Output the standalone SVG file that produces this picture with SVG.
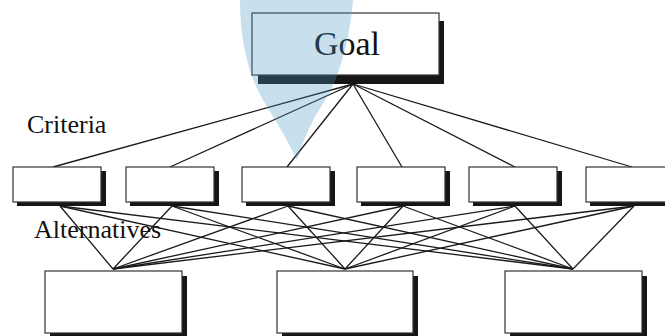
<svg xmlns="http://www.w3.org/2000/svg" width="665" height="336" viewBox="0 0 665 336">
<style>
.box{fill:#fff;stroke:#333;stroke-width:1.2}
.shadow{fill:#161616}
.lbl{font-family:"Liberation Serif","Times New Roman",serif;fill:#111}
#connectors line{stroke:#1a1a1a;stroke-width:1.3}
</style>
<rect width="665" height="336" fill="#fff"/>
<g id="connectors">
<line x1="353" y1="84" x2="53" y2="167"/>
<line x1="353" y1="84" x2="170" y2="167"/>
<line x1="353" y1="84" x2="287" y2="167"/>
<line x1="353" y1="84" x2="402" y2="167"/>
<line x1="353" y1="84" x2="515" y2="167"/>
<line x1="353" y1="84" x2="632" y2="167"/>
<line x1="60" y1="206" x2="113" y2="269"/><line x1="60" y1="206" x2="345" y2="269"/><line x1="60" y1="206" x2="573" y2="269"/>
<line x1="172" y1="206" x2="113" y2="269"/><line x1="172" y1="206" x2="345" y2="269"/><line x1="172" y1="206" x2="573" y2="269"/>
<line x1="288" y1="206" x2="113" y2="269"/><line x1="288" y1="206" x2="345" y2="269"/><line x1="288" y1="206" x2="573" y2="269"/>
<line x1="403" y1="206" x2="113" y2="269"/><line x1="403" y1="206" x2="345" y2="269"/><line x1="403" y1="206" x2="573" y2="269"/>
<line x1="515" y1="206" x2="113" y2="269"/><line x1="515" y1="206" x2="345" y2="269"/><line x1="515" y1="206" x2="573" y2="269"/>
<line x1="634" y1="206" x2="113" y2="269"/><line x1="634" y1="206" x2="345" y2="269"/><line x1="634" y1="206" x2="573" y2="269"/>
</g>
<g id="goal">
<rect class="shadow" x="258" y="21" width="186" height="63"/>
<rect class="box" x="252" y="13" width="187" height="62"/>
<text class="lbl" x="347" y="55" font-size="34" text-anchor="middle">Goal</text>
</g>
<g id="c1"><rect class="shadow" x="17" y="171" width="89" height="35"/><rect class="box" x="13" y="167" width="88" height="35"/></g>
<g id="c2"><rect class="shadow" x="130" y="171" width="89" height="35"/><rect class="box" x="126" y="167" width="88" height="35"/></g>
<g id="c3"><rect class="shadow" x="246" y="171" width="89" height="35"/><rect class="box" x="242" y="167" width="88" height="35"/></g>
<g id="c4"><rect class="shadow" x="361" y="171" width="89" height="35"/><rect class="box" x="357" y="167" width="88" height="35"/></g>
<g id="c5"><rect class="shadow" x="473" y="171" width="89" height="35"/><rect class="box" x="469" y="167" width="88" height="35"/></g>
<g id="c6"><rect class="shadow" x="590" y="171" width="89" height="35"/><rect class="box" x="586" y="167" width="88" height="35"/></g>
<g id="a1"><rect class="shadow" x="50" y="276" width="137" height="64"/><rect class="box" x="45" y="271" width="137" height="62"/></g>
<g id="a2"><rect class="shadow" x="282" y="276" width="136" height="64"/><rect class="box" x="277" y="271" width="136" height="62"/></g>
<g id="a3"><rect class="shadow" x="510" y="276" width="137" height="64"/><rect class="box" x="505" y="271" width="137" height="62"/></g>
<text class="lbl" x="27" y="133" font-size="26">Criteria</text>
<text class="lbl" x="34" y="238" font-size="26">Alternatives</text>
<path d="M240,0 C240,45 250,80 266,105 Q285,135 297,160 Q308,125 324,102 C338,82 350,40 353,0 Z" fill="rgb(73,150,197)" fill-opacity="0.3"/>
</svg>
